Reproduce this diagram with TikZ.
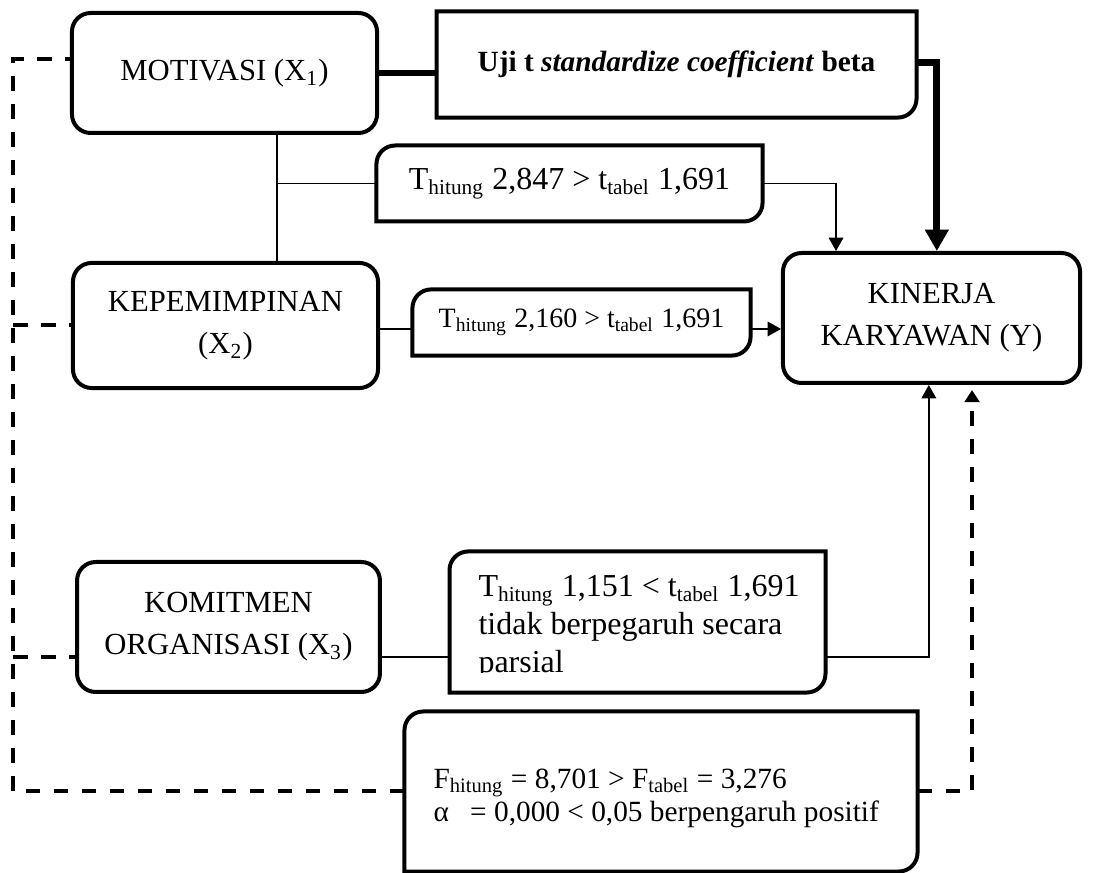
\documentclass[tikz,border=0pt]{standalone}
\usepackage{fontspec}
\setmainfont{Liberation Serif}
\usetikzlibrary{arrows.meta}
\newcommand{\kotak}[1]{%
  \draw[garis] (#1.south west) -- ([yshift=-7pt]#1.north west)
    arc[start angle=180,end angle=90,radius=7pt] -- (#1.north east)
    -- ([yshift=7pt]#1.south east)
    arc[start angle=0,end angle=-90,radius=7pt] -- cycle;}
\newcommand{\kotakbr}[1]{%
  \draw[garis] (#1.south west) -- (#1.north west) -- (#1.north east)
    -- ([yshift=7pt]#1.south east)
    arc[start angle=0,end angle=-90,radius=7pt] -- cycle;}

\begin{document}
\begin{tikzpicture}[x=0.375pt,y=-0.375pt,
    garis/.style={line width=1.5pt},
    bulat/.style={draw,line width=1.5pt,rounded corners=7pt,align=center,
      font=\fontsize{11.5}{15.75}\selectfont},
    isi/.style={inner sep=0pt,align=center,font=\fontsize{12}{15}\selectfont},
    teks/.style={inner sep=0pt,align=flush left,font=\fontsize{12}{14.25}\selectfont},
    tipis/.style={line width=0.5pt},
    panah/.style={line width=0.5pt,-{Triangle[length=5pt,width=5.5pt]}},
    tebal/.style={line width=2.6pt},
    putus/.style={line width=1.5pt,dash pattern=on 5.6pt off 4.9pt}]
  \useasboundingbox (0,0) rectangle (1119,873);

  \node[bulat,minimum width=114.4pt,minimum height=45pt] (mot) at (224.5,73) {MOTIVASI (X\textsubscript{1})};
  \node[bulat,minimum width=114.4pt,minimum height=46.9pt] (kep) at (225.5,325.5) {KEPEMIMPINAN\\(X\textsubscript{2})};
  \node[bulat,minimum width=113.6pt,minimum height=48.75pt] (kom) at (228.5,627) {KOMITMEN\\ORGANISASI (X\textsubscript{3})};
  \node[bulat,minimum width=111.4pt,minimum height=48.75pt] (kin) at (931.5,318) {KINERJA\\KARYAWAN (Y)};

  \node[isi,minimum width=179.6pt,minimum height=39.4pt,font=\fontsize{11}{13}\selectfont\bfseries] (uji) at (676.5,64.5) {Uji t \textit{standardize coefficient} beta};
  \kotakbr{uji}
  \node[isi,minimum width=144.4pt,minimum height=28.1pt] (t1) at (569.5,183.5) {T\textsubscript{hitung} 2,847 > t\textsubscript{tabel} 1,691};
  \kotak{t1}
  \node[isi,minimum width=126.4pt,minimum height=24.4pt,font=\fontsize{10.5}{12}\selectfont] (t2) at (581.5,322.5) {T\textsubscript{hitung} 2,160 > t\textsubscript{tabel} 1,691};
  \kotak{t2}
  \node[isi,minimum width=140.6pt,minimum height=52.5pt] (t3) at (637.5,622) {};
  \kotak{t3}
  \begin{scope}
    \clip (t3.north west) rectangle ([yshift=7.5pt]t3.south east);
    \node[teks,anchor=base west,text width=135pt] (t3teks) at (478,597) {T\textsubscript{hitung} 1,151 < t\textsubscript{tabel} 1,691\\tidak berpegaruh secara\\parsial};
  \end{scope}
  \node[isi,minimum width=192pt,minimum height=59.6pt] (fbox) at (661,791.5) {};
  \kotak{fbox}
  \node[teks,anchor=base west,text width=180pt,font=\fontsize{11}{12.75}\selectfont] (fteks) at (433,788) {F\textsubscript{hitung} = 8,701 > F\textsubscript{tabel} = 3,276\\α\hspace{8pt}= 0,000 < 0,05 berpengaruh positif};

  \draw[tebal] (mot.east) -- (mot.east -| uji.west);
  \draw[tebal,-{Triangle[length=8pt,width=8.5pt]}] ([yshift=0.6pt]uji.east) -| ([xshift=2pt]kin.north);
  \coordinate (cab) at ([xshift=19.7pt]mot.south |- t1.west);
  \draw[tipis] ([xshift=19.7pt]mot.south) -- ([xshift=19.7pt]mot.south |- kep.north);
  \draw[tipis] (cab) -- (t1.west);
  \draw[panah] (t1.east) -| ([xshift=-35.8pt]kin.north);
  \coordinate (c2) at ([yshift=-1.3pt]kep.east);
  \draw[tipis] (c2) -- (c2 -| t2.west);
  \draw[panah] (c2 -| t2.east) -- (c2 -| kin.west);
  \draw[tipis] ([yshift=-11.25pt]kom.east) -- ([yshift=-11.25pt]kom.east -| t3.west);
  \draw[panah] ([yshift=-13.1pt]t3.east) -| ([xshift=-1pt]kin.south);

  \coordinate (kiri) at (13,791.5);
  \draw[putus] (fbox.west) -- (kiri) |- ([yshift=5.25pt]mot.west);
  \draw[putus] (kiri |- kep.west) -- (kep.west);
  \draw[putus] ([yshift=-11.25pt]kom.west -| kiri) -- ([yshift=-11.25pt]kom.west);
  \draw[putus,-{Triangle[length=4.5pt,width=5.5pt]}] (fbox.east) -| ([xshift=15.2pt,yshift=-1.9pt]kin.south);
\end{tikzpicture}
\end{document}
